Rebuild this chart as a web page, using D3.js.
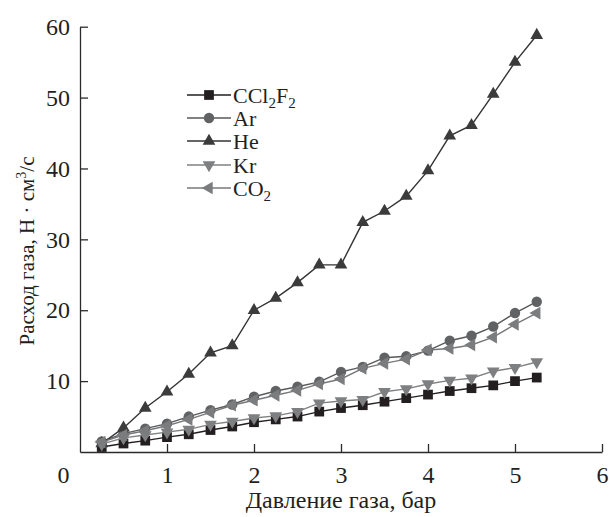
<!DOCTYPE html>
<html>
<head>
<meta charset="utf-8">
<script src="https://cdn.jsdelivr.net/npm/d3@7"></script>
<style>
  html, body { margin: 0; padding: 0; background: #fff; }
  svg { display: block; font-family: "Liberation Serif", "Times New Roman", serif; }
</style>
</head>
<body>
<svg id="chart" width="610" height="517"></svg>
<script>
// Pressure, bar
const pressure = [0.25, 0.5, 0.75, 1.0, 1.25, 1.5, 1.75, 2.0, 2.25, 2.5, 2.75,
                  3.0, 3.25, 3.5, 3.75, 4.0, 4.25, 4.5, 4.75, 5.0, 5.25];

// Gas flow, N·cm³/s
const ccl2f2 = [0.7, 1.2, 1.6, 2.1, 2.5, 3.1, 3.6, 4.2, 4.6, 5.0, 5.7,
                6.2, 6.6, 7.1, 7.6, 8.1, 8.6, 9.0, 9.4, 10.0, 10.5];
const ar     = [1.5, 2.6, 3.3, 4.0, 5.0, 5.9, 6.7, 7.8, 8.6, 9.2, 9.9,
                11.3, 12.0, 13.3, 13.5, 14.3, 15.7, 16.4, 17.7, 19.6, 21.2];
const he     = [1.2, 3.4, 6.2, 8.5, 11.0, 14.0, 15.0, 20.0, 21.7, 23.9, 26.4,
                26.4, 32.4, 34.0, 36.1, 39.7, 44.6, 46.1, 50.5, 55.0, 58.8];
const kr     = [1.1, 2.0, 2.4, 2.8, 3.2, 3.9, 4.3, 4.8, 5.1, 5.7, 6.9,
                7.2, 7.4, 8.5, 8.9, 9.6, 10.1, 10.4, 11.4, 11.9, 12.7];
const co2    = [1.4, 2.4, 3.0, 3.7, 4.6, 5.6, 6.6, 7.3, 8.0, 8.7, 9.6,
                10.3, 11.8, 12.5, 13.1, 14.4, 14.6, 15.1, 16.2, 18.0, 19.6];

const xTicks = [0, 1, 2, 3, 4, 5, 6];
const yTicks = [10, 20, 30, 40, 50, 60];

const series = [
  { name: "CCl2F2", values: ccl2f2, symbol: d3.symbolSquare,   size: 95, rotate: 0,   fill: "#231f20", stroke: "#231f20" },
  { name: "Ar",     values: ar,     symbol: d3.symbolCircle,   size: 85, rotate: 0,   fill: "#616264", stroke: "#58595b" },
  { name: "He",     values: he,     symbol: d3.symbolTriangle, size: 70, rotate: 0,   fill: "#3b3b3c", stroke: "#333334" },
  { name: "Kr",     values: kr,     symbol: d3.symbolTriangle, size: 70, rotate: 180, fill: "#7e7f81", stroke: "#808183" },
  { name: "CO2",    values: co2,    symbol: d3.symbolTriangle, size: 70, rotate: -90, fill: "#7b7c7e", stroke: "#77787a" }
];

const svg = d3.select("#chart");
const margin = { left: 80, right: 8, top: 26.7, bottom: 65 };
const W = 610, H = 517;
const serif = "Liberation Serif, Times New Roman, serif";

const x = d3.scaleLinear().domain([0, 6]).range([margin.left, W - margin.right]);
const y = d3.scaleLinear().domain([0, 60]).range([H - margin.bottom, margin.top]);

const axisColor = "#2b2b2b";

// X axis: ticks point inward (upward)
const xAxis = svg.append("g")
  .attr("transform", `translate(0,${y(0)})`)
  .call(d3.axisBottom(x).tickValues(xTicks).tickSizeInner(-8).tickSizeOuter(0).tickPadding(14).tickFormat(d3.format("d")));
xAxis.attr("font-family", serif);
xAxis.select(".domain").attr("stroke", axisColor).attr("stroke-width", 1.3);
xAxis.selectAll(".tick line").attr("stroke", axisColor).attr("stroke-width", 1.3)
  .filter(d => d === 0).remove();
xAxis.selectAll(".tick text")
  .attr("font-size", 24).attr("fill", "#231f20");
xAxis.selectAll(".tick").filter(d => d === 0).select("text")
  .attr("text-anchor", "end").attr("dx", -11);

// Y axis: ticks point inward (rightward)
const yAxis = svg.append("g")
  .attr("transform", `translate(${x(0)},0)`)
  .call(d3.axisLeft(y).tickValues(yTicks).tickSizeInner(-8).tickSizeOuter(0).tickPadding(10).tickFormat(d3.format("d")));
yAxis.attr("font-family", serif);
yAxis.select(".domain").attr("stroke", axisColor).attr("stroke-width", 1.3);
yAxis.selectAll(".tick line").attr("stroke", axisColor).attr("stroke-width", 1.3);
yAxis.selectAll(".tick text")
  .attr("font-size", 24).attr("fill", "#231f20");

// Axis titles
svg.append("text")
  .attr("x", 341).attr("y", 508)
  .attr("text-anchor", "middle")
  .attr("font-size", 24).attr("fill", "#231f20")
  .text("Давление газа, бар");

const yTitle = svg.append("text")
  .attr("transform", `translate(34,251) rotate(-90)`)
  .attr("text-anchor", "middle")
  .attr("font-size", 21).attr("fill", "#231f20");
yTitle.append("tspan").text("Расход газа, Н · см");
yTitle.append("tspan").attr("dy", -8).attr("font-size", 14).text("3");
yTitle.append("tspan").attr("dy", 8).text("/с");

// Series: lines then markers, drawn in legend order
const line = d3.line().x((d, i) => x(pressure[i])).y(d => y(d));

series.forEach(s => {
  const g = svg.append("g");
  g.append("path")
    .attr("d", line(s.values))
    .attr("fill", "none")
    .attr("stroke", s.stroke)
    .attr("stroke-width", 1.4);
  g.selectAll("path.mk")
    .data(s.values)
    .join("path")
    .attr("class", "mk")
    .attr("d", d3.symbol().type(s.symbol).size(s.size))
    .attr("transform", (d, i) => `translate(${x(pressure[i])},${y(d)}) rotate(${s.rotate})`)
    .attr("fill", s.fill);
});

// Legend
const legend = svg.append("g");
const legendRows = [95, 118, 141, 165, 188];
series.forEach((s, i) => {
  const ly = legendRows[i];
  legend.append("line")
    .attr("x1", 187).attr("x2", 231).attr("y1", ly).attr("y2", ly)
    .attr("stroke", s.stroke).attr("stroke-width", 1.4);
  legend.append("path")
    .attr("d", d3.symbol().type(s.symbol).size(s.size))
    .attr("transform", `translate(209,${ly}) rotate(${s.rotate})`)
    .attr("fill", s.fill);
  const t = legend.append("text")
    .attr("x", 233).attr("y", ly + 8)
    .attr("font-size", 22).attr("fill", "#231f20");
  if (s.name === "CCl2F2") {
    t.append("tspan").text("CCl");
    t.append("tspan").attr("dy", 5).attr("font-size", 15).text("2");
    t.append("tspan").attr("dy", -5).text("F");
    t.append("tspan").attr("dy", 5).attr("font-size", 15).text("2");
  } else if (s.name === "CO2") {
    t.append("tspan").text("CO");
    t.append("tspan").attr("dy", 5).attr("font-size", 15).text("2");
  } else {
    t.text(s.name);
  }
});
</script>
</body>
</html>
